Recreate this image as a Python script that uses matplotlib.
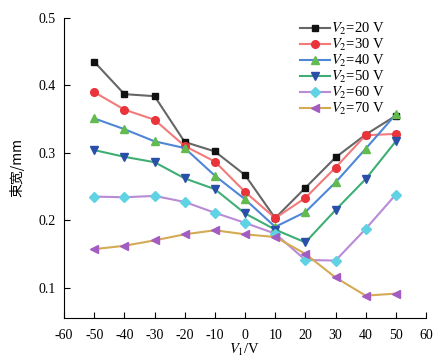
import matplotlib
matplotlib.use("Agg")
import matplotlib.pyplot as plt

V1 = [-50, -40, -30, -20, -10, 0, 10, 20, 30, 40, 50]
v20 = [0.435, 0.387, 0.384, 0.316, 0.302, 0.267, 0.203, 0.248, 0.293, 0.327, 0.355]
v30 = [0.390, 0.364, 0.349, 0.310, 0.287, 0.242, 0.203, 0.233, 0.278, 0.326, 0.328]
v40 = [0.351, 0.335, 0.317, 0.307, 0.266, 0.231, 0.190, 0.212, 0.256, 0.306, 0.357]
v50 = [0.304, 0.294, 0.286, 0.262, 0.246, 0.210, 0.186, 0.167, 0.215, 0.261, 0.317]
v60 = [0.235, 0.234, 0.236, 0.227, 0.211, 0.196, 0.180, 0.141, 0.140, 0.187, 0.238]
v70 = [0.157, 0.162, 0.170, 0.179, 0.185, 0.179, 0.175, 0.150, 0.115, 0.088, 0.091]
labels = ["20", "30", "40", "50", "60", "70"]

series = [v20, v30, v40, v50, v60, v70]
markers = ["s", "o", "^", "v", "D", "<"]
line_colors = ["#666666", "#f27a7a", "#4f86d6", "#3fae74", "#b98ad6", "#d4aa55"]
marker_colors = ["#111111", "#e8343a", "#62bb4f", "#2a4fa8", "#5fd3e3", "#a25cc2"]
msizes = [5.0, 5.5, 6, 6, 5.0, 6]

plt.rcParams['font.family'] = ['Liberation Serif', 'Noto Sans CJK SC']
plt.rcParams['mathtext.fontset'] = 'stix'
plt.rcParams['axes.unicode_minus'] = False

fig = plt.figure(figsize=(4.36, 3.6), dpi=100)
ax = fig.add_axes([0.147, 0.117, 0.83, 0.833])

for ys, lab, m, lc, mc, ms in zip(series, labels, markers, line_colors, marker_colors, msizes):
    ax.plot(V1, ys, color=lc, lw=1.5, marker=m, markersize=ms,
            markerfacecolor=mc, markeredgecolor=mc, label=f"$V_2$={lab} V")

ax.set_xlim(-60, 60)
ax.set_ylim(0.055, 0.5)
ax.set_xticks(range(-60, 61, 10))
ax.set_yticks([0.1, 0.2, 0.3, 0.4, 0.5])
ax.set_yticklabels(["0.1", "0.2", "0.3", "0.4", "0.5"])
ax.spines['top'].set_visible(False)
ax.spines['right'].set_visible(False)
ax.tick_params(direction='in', length=4, labelsize=10, width=0.8)
ax.tick_params(axis='x', pad=8)
ax.tick_params(axis='y', pad=6)
ax.set_xlabel("$V_1$/V", fontsize=10.5, labelpad=0)
ax.set_ylabel("束宽/mm", fontsize=10, family=['Noto Sans CJK SC'], labelpad=10)

ax.legend(loc='upper right', bbox_to_anchor=(0.91, 1.02), frameon=False, fontsize=10.5,
          handlelength=2.0, handletextpad=0.1, labelspacing=0.0, borderaxespad=0.2)

fig.savefig("out.png", dpi=100)
